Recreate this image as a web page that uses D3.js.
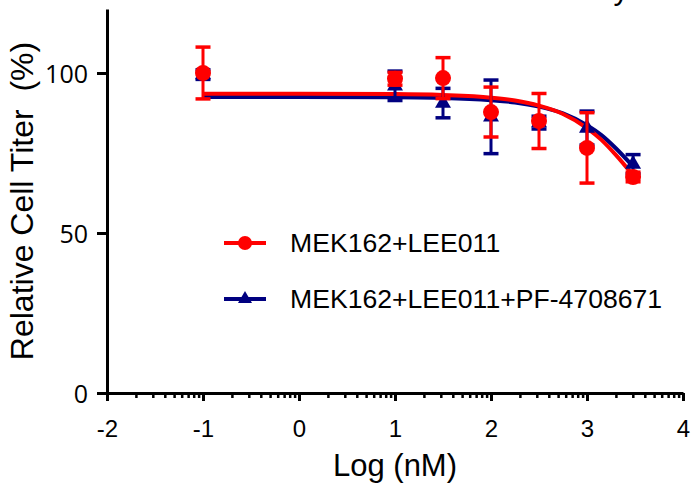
<!DOCTYPE html>
<html>
<head>
<meta charset="utf-8">
<script src="https://cdn.jsdelivr.net/npm/d3@7"></script>
<style>
  html, body { margin: 0; padding: 0; background: #fff; }
  svg { display: block; }
</style>
</head>
<body>
<svg id="chart" width="694" height="485"></svg>
<script>
// ---- Data ----
const doseLog = [-1, 1, 1.5, 2, 2.5, 3, 3.48];

const seriesNames = ["MEK162+LEE011", "MEK162+LEE011+PF-4708671"];
const seriesColors = ["#ff0000", "#000080"];

const redMean = [100, 98.2, 98.4, 87.8, 85.0, 76.6, 67.5];
const redErr  = [8.1, 2.0, 6.4, 7.8, 8.6, 11.0, 1.5];

const blueMean = [99.5, 96.0, 90.6, 86.3, 84.5, 82.8, 71.5];
const blueErr  = [1.5, 4.6, 4.6, 11.5, 2.0, 5.3, 3.0];

// fitted curves
const fitX    = [-1, 0, 1, 1.5, 2, 2.25, 2.5, 2.75, 3, 3.15, 3.3, 3.48];
const fitRed  = [93.5, 93.5, 93.4, 93.1, 92.3, 91.4, 89.8, 87.2, 82.8, 79.1, 74.4, 68.0];
const fitBlue = [92.5, 92.5, 92.4, 92.2, 91.5, 90.8, 89.5, 87.4, 83.7, 80.6, 76.5, 70.8];

const xMajorTicks = [-2, -1, 0, 1, 2, 3, 4];
const xMinorMultipliers = [2, 3, 4, 5, 6, 7, 8, 9];
const yTicks = [0, 50, 100];

const titleText = "Viability";
const xTitle = "Log (nM)";
const yTitle = "Relative Cell Titer  (%)";

// ---- Layout ----
const svg = d3.select("#chart");
const x = d3.scaleLinear().domain([-2, 4]).range([107, 683]);
const y = d3.scaleLinear().domain([0, 120]).range([393, 9]);

const sans = "'Liberation Sans', Arial, sans-serif";

// cropped title (only descender visible, as in the reference)
svg.append("text")
  .attr("x", 629).attr("y", -1)
  .attr("text-anchor", "end")
  .style("font-family", sans).style("font-size", "31px")
  .text(titleText);

// ---- Axes ----
const minorTicks = [];
for (let i = 0; i < xMajorTicks.length - 1; i++) {
  xMinorMultipliers.forEach(m => minorTicks.push(xMajorTicks[i] + Math.log10(m)));
}

const gxMinor = svg.append("g").attr("transform", `translate(0,${y(0)})`)
  .call(d3.axisBottom(x).tickValues(minorTicks).tickSize(5).tickSizeOuter(0).tickFormat(""));
gxMinor.select(".domain").remove();
gxMinor.selectAll(".tick line").attr("stroke", "#000").attr("stroke-width", 2.5);

const gx = svg.append("g").attr("transform", `translate(0,${y(0)})`)
  .call(d3.axisBottom(x).tickValues(xMajorTicks).tickSize(8).tickSizeOuter(0).tickPadding(8)
    .tickFormat(d => String(d)));
gx.select(".domain").attr("stroke", "#000").attr("stroke-width", 3);
gx.selectAll(".tick line").attr("stroke", "#000").attr("stroke-width", 3);
gx.selectAll(".tick text")
  .attr("y", 44).attr("dy", null)
  .style("font-family", sans).style("font-size", "24px").attr("fill", "#000");

const gy = svg.append("g").attr("transform", `translate(${x(-2)},0)`)
  .call(d3.axisLeft(y).tickValues(yTicks).tickSize(10).tickSizeOuter(0).tickPadding(9));
gy.select(".domain").attr("stroke", "#000").attr("stroke-width", 3);
gy.selectAll(".tick line").attr("stroke", "#000").attr("stroke-width", 3);
gy.selectAll(".tick text")
  .attr("dy", "0.36em")
  .style("font-family", "'Open Sans', sans-serif").style("font-size", "25px").attr("fill", "#000");

// axis titles
svg.append("text")
  .attr("x", 395).attr("y", 476)
  .attr("text-anchor", "middle")
  .style("font-family", sans).style("font-size", "31px")
  .text(xTitle);

svg.append("text")
  .attr("transform", `translate(33,${(y(0) + y(120)) / 2}) rotate(-90)`)
  .attr("text-anchor", "middle")
  .style("font-family", sans).style("font-size", "32px")
  .style("white-space", "pre")
  .text(yTitle);

// ---- Curves ----
const line = d3.line().x(d => x(d[0])).y(d => y(d[1])).curve(d3.curveMonotoneX);
svg.append("path")
  .attr("d", line(fitX.map((v, i) => [v, fitBlue[i]])))
  .attr("fill", "none").attr("stroke", seriesColors[1]).attr("stroke-width", 4);
svg.append("path")
  .attr("d", line(fitX.map((v, i) => [v, fitRed[i]])))
  .attr("fill", "none").attr("stroke", seriesColors[0]).attr("stroke-width", 4);

// ---- Points with error bars ----
function drawSeries(means, errs, color, shape) {
  const g = svg.append("g");
  const pts = doseLog.map((v, i) => ({ x: v, m: means[i], e: errs[i] }));
  const eb = g.selectAll("g.eb").data(pts).enter().append("g");
  eb.append("line")
    .attr("x1", d => x(d.x)).attr("x2", d => x(d.x))
    .attr("y1", d => y(d.m + d.e)).attr("y2", d => y(d.m - d.e))
    .attr("stroke", color).attr("stroke-width", 3);
  [1, -1].forEach(s => {
    eb.append("line")
      .attr("x1", d => x(d.x) - 7.5).attr("x2", d => x(d.x) + 7.5)
      .attr("y1", d => y(d.m + s * d.e)).attr("y2", d => y(d.m + s * d.e))
      .attr("stroke", color).attr("stroke-width", 3.5);
  });
  if (shape === "circle") {
    g.selectAll("circle").data(pts).enter().append("circle")
      .attr("cx", d => x(d.x)).attr("cy", d => y(d.m)).attr("r", 8)
      .attr("fill", color);
  } else {
    g.selectAll("path.sym").data(pts).enter().append("path")
      .attr("transform", d => `translate(${x(d.x)},${y(d.m)})`)
      .attr("d", d3.symbol(d3.symbolTriangle, 110)())
      .attr("fill", color);
  }
}
drawSeries(blueMean, blueErr, seriesColors[1], "triangle");
drawSeries(redMean, redErr, seriesColors[0], "circle");

// ---- Legend ----
const legendRows = [
  { name: seriesNames[0], color: seriesColors[0], shape: "circle", cy: 243 },
  { name: seriesNames[1], color: seriesColors[1], shape: "triangle", cy: 299 }
];
legendRows.forEach(r => {
  svg.append("line")
    .attr("x1", 224).attr("x2", 266).attr("y1", r.cy).attr("y2", r.cy)
    .attr("stroke", r.color).attr("stroke-width", 4);
  if (r.shape === "circle") {
    svg.append("circle").attr("cx", 245).attr("cy", r.cy).attr("r", 7).attr("fill", r.color);
  } else {
    svg.append("path").attr("transform", `translate(245,${r.cy})`)
      .attr("d", d3.symbol(d3.symbolTriangle, 85)()).attr("fill", r.color);
  }
  svg.append("text")
    .attr("x", 290).attr("y", r.cy + 9)
    .style("font-family", sans).style("font-size", "26.6px")
    .text(r.name);
});
</script>
</body>
</html>
